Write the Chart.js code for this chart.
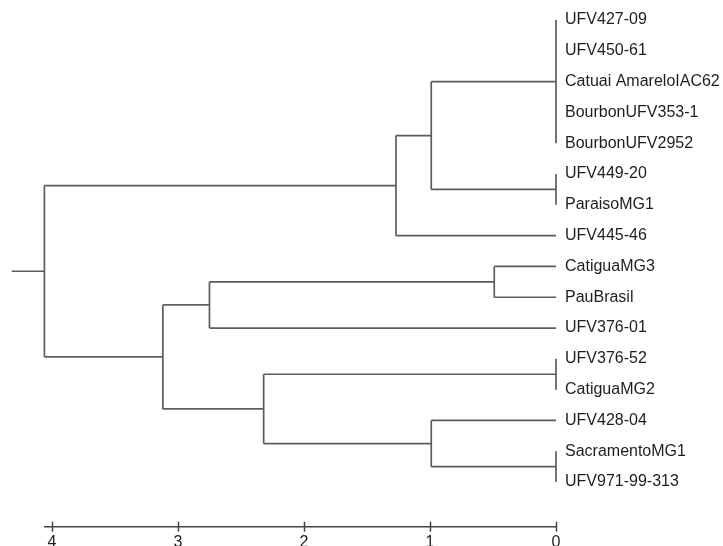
<!DOCTYPE html>
<html>
<head>
<meta charset="utf-8">
<script src="https://cdn.jsdelivr.net/npm/chart.js@4"></script>
<style>
  body { margin: 0; background: #fff; }
  #wrap { width: 723px; height: 546px; position: relative; }
</style>
</head>
<body>
<div id="wrap"><canvas id="tree"></canvas></div>
<script>
// leaves, top to bottom
const leaves = [
    'UFV427-09', 'UFV450-61', 'Catuai AmareloIAC62', 'BourbonUFV353-1', 'BourbonUFV2952',
    'UFV449-20', 'ParaisoMG1', 'UFV445-46', 'CatiguaMG3', 'PauBrasil', 'UFV376-01',
    'UFV376-52', 'CatiguaMG2', 'UFV428-04', 'SacramentoMG1', 'UFV971-99-313'
];

// merges: numbers are leaves, 'cN' refers to merge N
const mergeMembers = [
    [0, 1, 2, 3, 4],
    [5, 6],
    ['c0', 'c1'],
    ['c2', 7],
    [8, 9],
    ['c4', 10],
    [11, 12],
    [14, 15],
    [13, 'c7'],
    ['c6', 'c8'],
    ['c5', 'c9'],
    ['c3', 'c10']
];
const mergeHeights = [0, 0, 0.99, 1.27, 0.49, 2.75, 0, 0, 0.99, 2.32, 3.12, 4.06];
const xTicks = [4, 3, 2, 1, 0];

const lineColor = '#5c5c5c';
const textColor = '#1e1e1e';
const fontFamily = "'Liberation Sans', Arial, sans-serif";

// build the bracket segments
const nodeY = [];
const segments = [];
function place(ref) {
    if (typeof ref === 'number') return { x: 0, y: ref };
    const k = +ref.slice(1);
    return { x: mergeHeights[k], y: nodeY[k] };
}
mergeMembers.forEach((members, k) => {
    const kids = members.map(place);
    const h = mergeHeights[k];
    const ys = kids.map(p => p.y);
    nodeY[k] = ys.reduce((s, v) => s + v, 0) / ys.length;
    segments.push([{ x: h, y: Math.min(...ys) }, { x: h, y: Math.max(...ys) }]);
    kids.forEach(p => {
        if (p.x !== h) segments.push([{ x: p.x, y: p.y }, { x: h, y: p.y }]);
    });
});
// short stem to the left of the root
const root = mergeHeights.length - 1;
segments.push([{ x: mergeHeights[root], y: nodeY[root] }, { x: mergeHeights[root] + 0.26, y: nodeY[root] }]);

// tick marks that cross the axis line
const crossTicks = {
    id: 'crossTicks',
    afterDraw(chart) {
        const xs = chart.scales.x;
        const ctx = chart.ctx;
        const y = xs.top;
        ctx.save();
        ctx.strokeStyle = '#444';
        ctx.lineWidth = 1.5;
        xTicks.forEach(v => {
            const px = Math.round(xs.getPixelForValue(v)) + 0.5;
            ctx.beginPath();
            ctx.moveTo(px, y - 5);
            ctx.lineTo(px, y + 5);
            ctx.stroke();
        });
        ctx.restore();
    }
};

new Chart(document.getElementById('tree'), {
    type: 'scatter',
    data: {
        datasets: segments.map(s => ({
            data: s,
            showLine: true,
            borderColor: lineColor,
            borderWidth: 1.7,
            pointRadius: 0,
            clip: false
        }))
    },
    options: {
        responsive: true,
        maintainAspectRatio: false,
        animation: false,
        layout: { padding: { left: 44.4, top: 0, right: 0, bottom: 0 } },
        plugins: {
            legend: { display: false },
            tooltip: { enabled: false }
        },
        scales: {
            x: {
                type: 'linear',
                reverse: true,
                min: 0,
                max: mergeHeights[root],
                grid: { display: false, drawTicks: false },
                border: { display: true, color: '#444', width: 1.5 },
                ticks: {
                    color: textColor,
                    font: { family: fontFamily, size: 16 },
                    padding: 6,
                    maxRotation: 0,
                    autoSkip: false
                },
                afterBuildTicks: s => { s.ticks = xTicks.map(v => ({ value: v })); },
                afterFit: s => {
                    s.height = 19.3;
                    s.paddingLeft = 0;
                    s.paddingRight = 0;
                }
            },
            y: {
                type: 'linear',
                position: 'right',
                reverse: true,
                min: -0.65,
                max: 16.45,
                grid: { display: false, drawTicks: false },
                border: { display: false },
                ticks: {
                    color: textColor,
                    font: { family: fontFamily, size: 16 },
                    padding: 9,
                    autoSkip: false,
                    callback: v => leaves[v]
                },
                afterBuildTicks: s => { s.ticks = leaves.map((_, i) => ({ value: i })); },
                afterFit: s => {
                    s.width = 167;
                    s.paddingTop = 0;
                    s.paddingBottom = 0;
                }
            }
        }
    },
    plugins: [crossTicks]
});
</script>
</body>
</html>
